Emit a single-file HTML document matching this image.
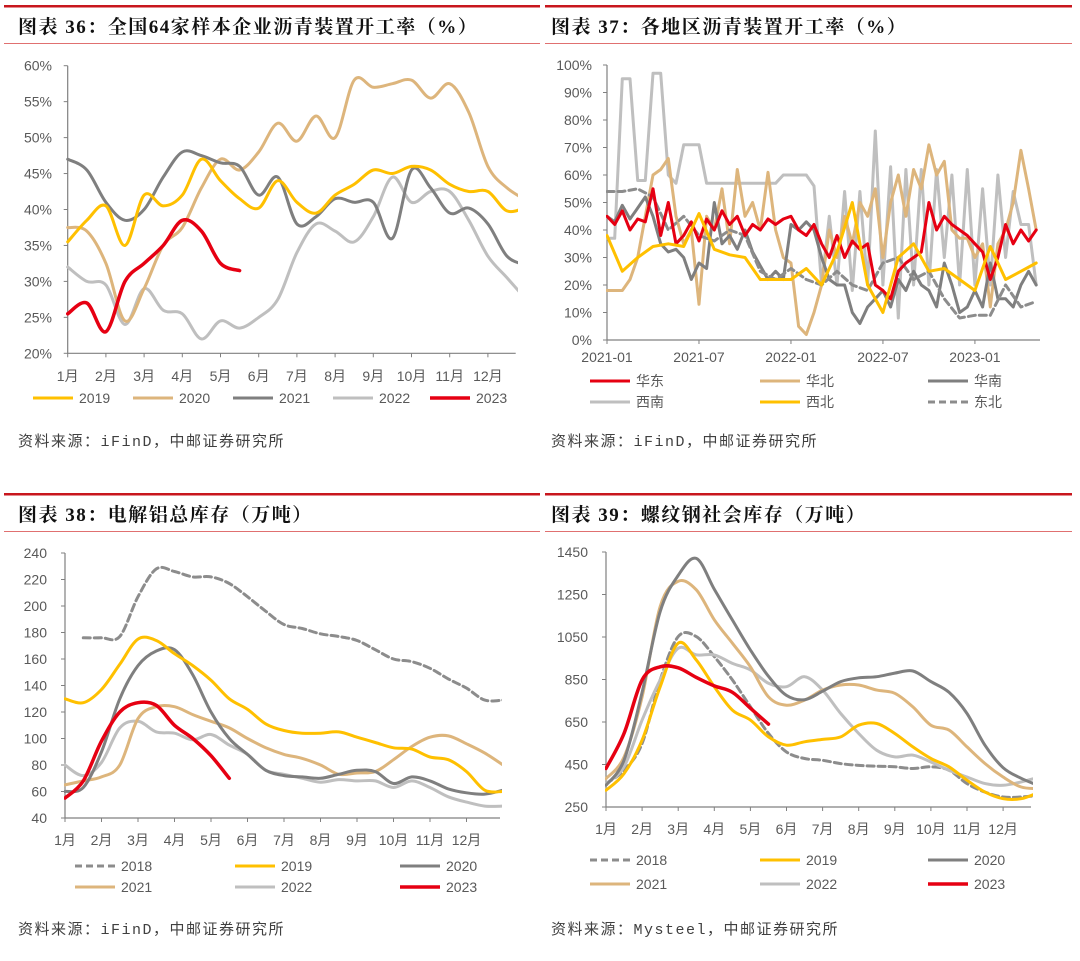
<!DOCTYPE html>
<html><head><meta charset="utf-8">
<style>
html,body{margin:0;padding:0;background:#fff;}
svg{display:block;}
.t{font-family:"Liberation Sans","Noto Sans CJK SC",sans-serif;font-size:14px;fill:#595959;}
.ttl{font-family:"Liberation Serif","Noto Serif CJK SC",serif;font-size:19px;font-weight:bold;fill:#111;letter-spacing:1.5px;}
.src{font-family:"Liberation Mono","Noto Sans CJK SC",monospace;font-size:15px;fill:#404040;letter-spacing:1.5px;}
</style></head>
<body>
<svg id="root" width="1080" height="961" viewBox="0 0 1080 961" xmlns="http://www.w3.org/2000/svg">
<defs>
<clipPath id="c1"><rect x="66" y="55" width="452" height="300"/></clipPath>
<clipPath id="c2"><rect x="606" y="55" width="436" height="287"/></clipPath>
<clipPath id="c3"><rect x="64" y="545" width="438" height="275"/></clipPath>
<clipPath id="c4"><rect x="605" y="545" width="428" height="264"/></clipPath>
</defs>
<g>
<rect x="4" y="5" width="536" height="2.5" fill="#c8161d"/>
<rect x="545" y="5" width="527" height="2.5" fill="#c8161d"/>
<rect x="4" y="43" width="536" height="1" fill="#e07070"/>
<rect x="545" y="43" width="527" height="1" fill="#e07070"/>
<rect x="4" y="493" width="536" height="2.5" fill="#c8161d"/>
<rect x="545" y="493" width="527" height="2.5" fill="#c8161d"/>
<rect x="4" y="531" width="536" height="1" fill="#e07070"/>
<rect x="545" y="531" width="527" height="1" fill="#e07070"/>
</g>
<text class="ttl" x="18" y="33">图表 36：全国64家样本企业沥青装置开工率（%）</text>
<text class="ttl" x="551" y="33">图表 37：各地区沥青装置开工率（%）</text>
<text class="ttl" x="18" y="521">图表 38：电解铝总库存（万吨）</text>
<text class="ttl" x="551" y="521">图表 39：螺纹钢社会库存（万吨）</text>
<text class="src" x="18" y="446">资料来源：iFinD，中邮证券研究所</text>
<text class="src" x="551" y="446">资料来源：iFinD，中邮证券研究所</text>
<text class="src" x="18" y="934">资料来源：iFinD，中邮证券研究所</text>
<text class="src" x="551" y="934">资料来源：Mysteel，中邮证券研究所</text>
<g id="g1"></g>
<g id="g2"></g>
<g id="g3"></g>
<g id="g4"></g>
</svg>
<script>
// ---------- data ----------
const months = ['1月','2月','3月','4月','5月','6月','7月','8月','9月','10月','11月','12月'];
// chart 36 (half-month samples, %)
const c1Ticks = [20,25,30,35,40,45,50,55,60];
const c1y2019 = [35.5,38.5,40.5,35,42,40.5,42,47,44,41.5,40.2,44,41,39.5,42,43.5,45.5,45,46,45.5,43.5,42.5,42.5,39.8,40.3];
const c1y2020 = [37.5,37,32.5,24.5,29,35,37.5,43,47,45.5,48,52,49.5,53,50,58,57,57.5,58,55.5,57.5,53.5,46,43,41.3];
const c1y2021 = [47,45.5,41,38.5,40,44.5,48,47.5,46.5,46,42,44.5,38,39,41.5,41,41,36,45.5,43,39.5,40.2,38,33.5,32.3];
const c1y2022 = [32,30,29.5,24,29,26,25.5,22,24.5,23.5,25,27.5,34,38,37,35.5,39,44.5,41,42.5,42.5,38.5,33.5,30.5,27.5];
const c1y2023 = [25.5,27,23,30,32.5,35,38.5,37,32.5,31.5];
// chart 37 (from 2021-01, %)
const c2Ticks = [0,10,20,30,40,50,60,70,80,90,100];
const c2Labels = ['2021-01','2021-07','2022-01','2022-07','2023-01'];
// half-month samples
const c2East  = [45,42,47,40,44,43,55,38,50,35,38,43,36,44,40,47,42,45,38,42,40,44,42,44,45,40,38,42,35,30,38,30,36,33,35,20,18,15,25,28,30,32,50,40,45,42,40,38,35,32,22,30,42,35,40,36,40];
const c2North = [18,18,18,22,30,45,60,62,66,45,35,40,13,45,40,55,35,62,45,50,40,61,40,30,28,5,2,10,20,40,30,45,35,50,45,55,30,50,60,45,62,55,71,60,65,40,37,37,30,35,12,35,40,50,69,55,40];
const c2South = [45,43,49,44,48,52,45,35,32,33,30,22,28,26,50,35,38,33,40,32,27,22,25,22,42,40,43,40,30,22,20,20,10,6,12,15,18,12,22,18,25,20,18,12,28,20,10,12,18,12,28,15,15,12,20,25,20];
const c2SW    = [37,37,95,95,58,58,97,97,60,57,71,71,71,57,57,57,57,57,57,57,57,57,57,60,60,60,60,56,20,45,20,54,18,54,20,76,20,63,8,62,20,62,20,62,30,60,20,62,20,55,20,60,30,54,42,42,20];
// monthly samples
const c2NW    = [38,25,30,34,35,34,46,33,31,30,22,22,22,26,20,32,50,20,10,30,35,25,26,22,18,34,22,25,28];
const c2NE    = [54,54,55,52,40,45,38,36,40,38,25,22,26,22,20,25,20,18,28,30,22,25,15,8,9,9,20,12,14];
// chart 38 (half-month, 万吨)
const c3Ticks = [40,60,80,100,120,140,160,180,200,220,240];
const c3y2018 = [null,176,176,177,207,228,226,222,222,217,207,196,186,183,179,177,174,167,160,158,153,145,138,129,129];
const c3y2019 = [130,127,137,156,175,174,164,155,144,130,122,111,106,104,104,105,101,97,93,92,86,84,75,61,60];
const c3y2020 = [60,63,90,130,155,166,167,148,120,100,88,76,72,71,70,73,76,75,66,71,68,62,59,58,61];
const c3y2021 = [65,68,71,80,115,124,124,118,113,108,100,93,88,85,80,73,74,75,84,94,101,102,96,89,80];
const c3y2022 = [80,72,82,108,113,105,104,99,103,95,88,76,73,70,67,69,68,68,63,68,63,56,52,49,49];
const c3y2023 = [55,68,98,120,127,125,110,100,87,70];
// chart 39 (half-month, 万吨)
const c4Ticks = [250,450,650,850,1050,1250,1450];
const c4y2018 = [360,423,549,848,1052,1052,958,848,722,596,509,478,470,454,446,442,439,431,439,423,360,320,297,297,305];
const c4y2019 = [329,407,565,816,1021,942,816,706,659,580,541,557,568,580,635,643,596,533,478,439,376,320,289,289,320];
const c4y2020 = [352,470,790,1170,1340,1420,1275,1130,989,865,775,755,795,840,858,863,880,890,840,790,690,540,435,385,350];
const c4y2021 = [383,485,768,1194,1312,1272,1131,1021,910,768,729,753,800,824,824,800,785,721,635,612,533,454,391,344,336];
const c4y2022 = [360,439,659,848,997,966,966,926,895,832,816,863,800,690,596,517,486,494,462,423,391,360,352,368,391];
const c4y2023 = [431,596,848,910,905,860,820,790,715,640];

// ---------- helpers ----------
const NS = 'http://www.w3.org/2000/svg';
function lin(d0,d1,r0,r1){return v=>r0+(v-d0)*(r1-r0)/(d1-d0);}
function el(parent,tag,attrs){const e=document.createElementNS(NS,tag);for(const k in attrs)e.setAttribute(k,attrs[k]);parent.appendChild(e);return e;}
function smooth(pts){
  if(pts.length<2)return '';
  let d='M'+pts[0][0].toFixed(1)+','+pts[0][1].toFixed(1);
  for(let i=0;i<pts.length-1;i++){
    const p0=pts[i-1]||pts[i],p1=pts[i],p2=pts[i+1],p3=pts[i+2]||p2;
    const c1x=p1[0]+(p2[0]-p0[0])/6,c1y=p1[1]+(p2[1]-p0[1])/6;
    const c2x=p2[0]-(p3[0]-p1[0])/6,c2y=p2[1]-(p3[1]-p1[1])/6;
    d+=' C'+c1x.toFixed(1)+','+c1y.toFixed(1)+' '+c2x.toFixed(1)+','+c2y.toFixed(1)+' '+p2[0].toFixed(1)+','+p2[1].toFixed(1);
  }
  return d;
}
function poly(pts){return pts.map((p,i)=>(i?'L':'M')+p[0].toFixed(1)+','+p[1].toFixed(1)).join(' ');}
function series(g,vals,step,xs,ys,color,w,dash,curve,clip,name){
  let segs=[],cur=[];
  vals.forEach((v,i)=>{if(v==null){if(cur.length)segs.push(cur);cur=[];}else cur.push([xs(i*step),ys(v)]);});
  if(cur.length)segs.push(cur);
  const d=segs.map(s=>curve?smooth(s):poly(s)).join(' ');
  const p=el(g,'path',{d:d,fill:'none',stroke:color,'stroke-width':w,'stroke-linejoin':'round','stroke-linecap':'round','clip-path':'url(#'+clip+')'});
  if(dash)p.setAttribute('stroke-dasharray',dash);
  
  
}
function text(g,x,y,s,anchor,name){
  const t=el(g,'text',{x:x,y:y,'class':'t','text-anchor':anchor});
  t.textContent=s;
  
  
  return t;
}
function axes(g,x0,x1,y0,y1,ticks,ys,fmt,labelX,xTickPos,xLabels,labelY){
  const ax=el(g,'path',{d:'M'+x0+','+y1+' L'+x0+','+y0+' L'+x1+','+y0,fill:'none',stroke:'#808080','stroke-width':1.2});
  
  
  ticks.forEach(v=>{
    const y=ys(v);
    el(g,'line',{x1:x0-4,x2:x0,y1:y,y2:y,stroke:'#808080','stroke-width':1});
    text(g,labelX,y+5,fmt(v),'end','y-tick-label');
  });
  xTickPos.forEach(x=>{el(g,'line',{x1:x,x2:x,y1:y0,y2:y0+4,stroke:'#808080','stroke-width':1});});
  xLabels.forEach((s,i)=>{text(g,xTickPos[i],labelY,s,'middle','x-tick-label');});
}
function legend(g,x,y,color,dash,label,w){
  const l=el(g,'line',{x1:x,x2:x+40,y1:y,y2:y,stroke:color,'stroke-width':w||3});
  if(dash)l.setAttribute('stroke-dasharray',dash);
  
  
  text(g,x+46,y+5,label,'start','legend-label');
}
const YEL='#FFC000',TAN='#DDB57C',DG='#7F7F7F',LG='#BFBFBF',RED='#E60012',DSH='#8C8C8C';

// ---------- chart 36 ----------
(function(){
  const g=document.getElementById('g1');
  const xs=lin(0,1,67.7,67.7+38.2), ys=lin(20,60,353.3,65.7);
  axes(g,67.7,515.7,353.3,65.7,c1Ticks,ys,v=>v+'%',52,months.map((m,i)=>xs(i)),months,381);
  series(g,c1y2022,0.5,xs,ys,LG,3,null,true,'c1','line-2022');
  series(g,c1y2020,0.5,xs,ys,TAN,3,null,true,'c1','line-2020');
  series(g,c1y2021,0.5,xs,ys,DG,3,null,true,'c1','line-2021');
  series(g,c1y2019,0.5,xs,ys,YEL,3,null,true,'c1','line-2019');
  series(g,c1y2023,0.5,xs,ys,RED,3.5,null,true,'c1','line-2023');
  legend(g,33,398,YEL,null,'2019');legend(g,133,398,TAN,null,'2020');legend(g,233,398,DG,null,'2021');
  legend(g,333,398,LG,null,'2022');legend(g,430,398,RED,null,'2023',3.5);
})();
// ---------- chart 37 ----------
(function(){
  const g=document.getElementById('g2');
  const xs=lin(0,1,607,607+15.33), ys=lin(0,100,340,65);
  axes(g,607,1040,340,65,c2Ticks,ys,v=>v+'%',592,c2Labels.map((s,i)=>xs(i*6)),c2Labels,362);
  series(g,c2SW,0.5,xs,ys,LG,3,null,false,'c2','line-southwest');
  series(g,c2North,0.5,xs,ys,TAN,3,null,false,'c2','line-north');
  series(g,c2South,0.5,xs,ys,DG,3,null,false,'c2','line-south');
  series(g,c2NE,1,xs,ys,DSH,3,'7,4',false,'c2','line-northeast');
  series(g,c2East,0.5,xs,ys,RED,3,null,false,'c2','line-east');
  series(g,c2NW,1,xs,ys,YEL,3,null,false,'c2','line-northwest');
  legend(g,590,381,RED,null,'华东');legend(g,760,381,TAN,null,'华北');legend(g,928,381,DG,null,'华南');
  legend(g,590,402,LG,null,'西南');legend(g,760,402,YEL,null,'西北');legend(g,928,402,DSH,'7,4','东北');
})();
// ---------- chart 38 ----------
(function(){
  const g=document.getElementById('g3');
  const xs=lin(0,1,65,101.5), ys=lin(40,240,818,553);
  axes(g,65,500,818,553,c3Ticks,ys,v=>''+v,47,months.map((m,i)=>xs(i)),months,845);
  series(g,c3y2018,0.5,xs,ys,DSH,3,'7,4',true,'c3','line-2018');
  series(g,c3y2022,0.5,xs,ys,LG,3,null,true,'c3','line-2022');
  series(g,c3y2021,0.5,xs,ys,TAN,3,null,true,'c3','line-2021');
  series(g,c3y2020,0.5,xs,ys,DG,3,null,true,'c3','line-2020');
  series(g,c3y2019,0.5,xs,ys,YEL,3,null,true,'c3','line-2019');
  series(g,c3y2023,0.5,xs,ys,RED,3.5,null,true,'c3','line-2023');
  legend(g,75,866,DSH,'7,4','2018');legend(g,235,866,YEL,null,'2019');legend(g,400,866,DG,null,'2020');
  legend(g,75,887,TAN,null,'2021');legend(g,235,887,LG,null,'2022');legend(g,400,887,RED,null,'2023',3.5);
})();
// ---------- chart 39 ----------
(function(){
  const g=document.getElementById('g4');
  const xs=lin(0,1,606,642.1), ys=lin(250,1450,807,552);
  axes(g,606,1031,807,552,c4Ticks,ys,v=>''+v,588,months.map((m,i)=>xs(i)),months,834);
  series(g,c4y2018,0.5,xs,ys,DSH,3,'7,4',true,'c4','line-2018');
  series(g,c4y2022,0.5,xs,ys,LG,3,null,true,'c4','line-2022');
  series(g,c4y2021,0.5,xs,ys,TAN,3,null,true,'c4','line-2021');
  series(g,c4y2020,0.5,xs,ys,DG,3,null,true,'c4','line-2020');
  series(g,c4y2019,0.5,xs,ys,YEL,3,null,true,'c4','line-2019');
  series(g,c4y2023,0.5,xs,ys,RED,3.5,null,true,'c4','line-2023');
  legend(g,590,860,DSH,'7,4','2018');legend(g,760,860,YEL,null,'2019');legend(g,928,860,DG,null,'2020');
  legend(g,590,884,TAN,null,'2021');legend(g,760,884,LG,null,'2022');legend(g,928,884,RED,null,'2023',3.5);
})();
</script>
</body></html>
